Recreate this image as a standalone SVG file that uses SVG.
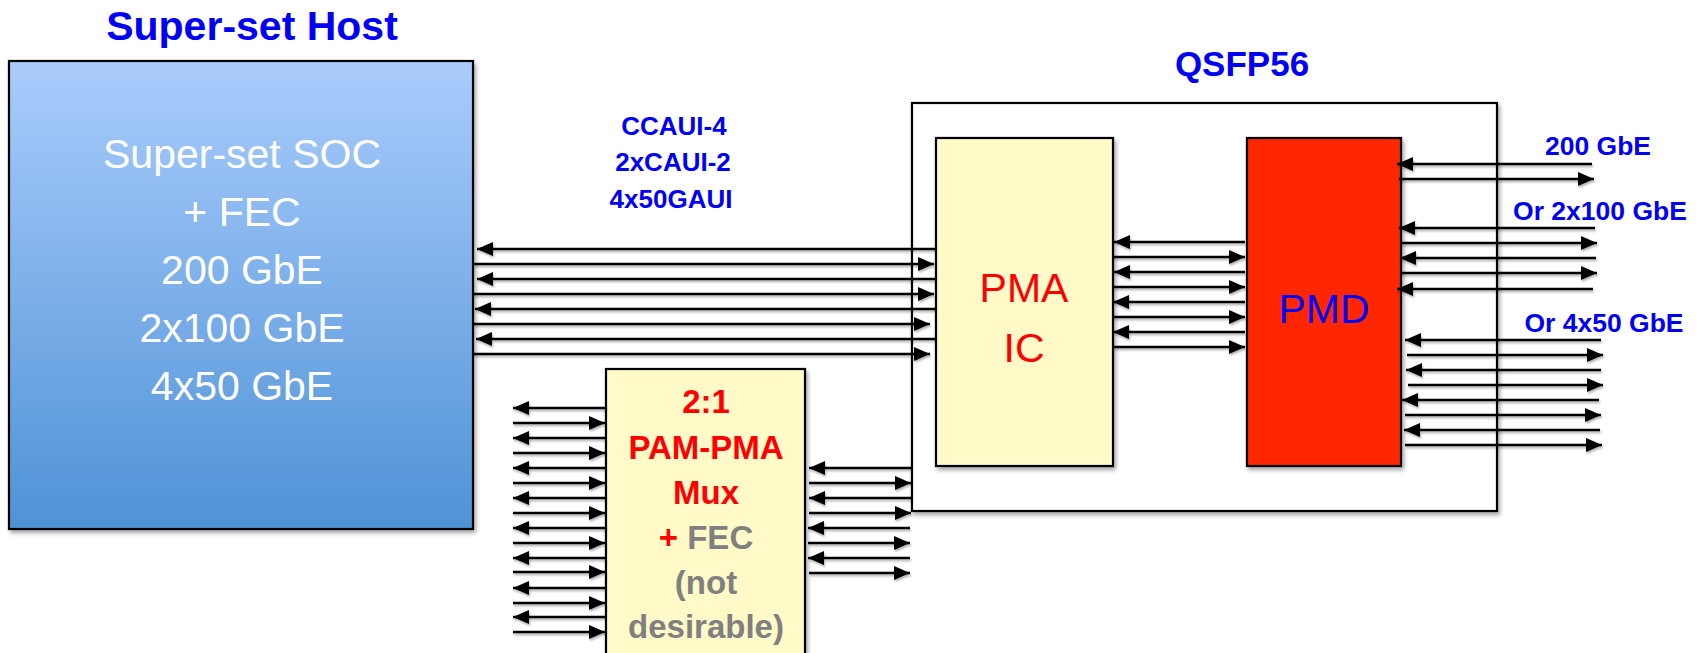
<svg xmlns="http://www.w3.org/2000/svg" width="1706" height="653" viewBox="0 0 1706 653">
<style>
.box{stroke:#000;stroke-width:2.2}
.ln{stroke:#000;stroke-width:2.6;fill:none}
.r{marker-end:url(#ah)}
.t{font-family:"Liberation Sans",Arial,sans-serif;text-anchor:middle}
.b{font-weight:bold}
.blue{fill:#0000F5}
.red{fill:#FF0000}
.gray{fill:#808080}
</style>
<defs>
<linearGradient id="hg" x1="0" y1="0" x2="0" y2="1">
<stop offset="0" stop-color="#AACCFC"/>
<stop offset="1" stop-color="#4E92D6"/>
</linearGradient>
<filter id="sh" x="-10%" y="-10%" width="130%" height="130%">
<feDropShadow dx="2" dy="3" stdDeviation="2" flood-color="#000" flood-opacity="0.35"/>
</filter>
<filter id="lsh" x="-5%" y="-50%" width="110%" height="200%">
<feDropShadow dx="1" dy="2" stdDeviation="1.2" flood-color="#000" flood-opacity="0.3"/>
</filter>
<marker id="ah" markerUnits="userSpaceOnUse" markerWidth="17" markerHeight="15" refX="16" refY="7" orient="auto" viewBox="0 0 17 15">
<path d="M0,0 L16,7 L0,14 z" fill="#000"/>
</marker>
</defs>
<rect width="1706" height="653" fill="#fff"/>

<g id="qsfp56">
<rect class="box" x="912" y="103" width="585" height="408" fill="#fff" filter="url(#sh)"/>
<text class="t b blue" x="1242" y="76" font-size="35">QSFP56</text>
</g>

<g id="host">
<text class="t b blue" x="252" y="40" font-size="41">Super-set Host</text>
<rect class="box" x="9" y="61" width="464" height="468" fill="url(#hg)" filter="url(#sh)"/>
<g class="t" fill="#fff" font-size="41">
<text x="242" y="168">Super-set SOC</text>
<text x="242" y="226">+ FEC</text>
<text x="242" y="284">200 GbE</text>
<text x="242" y="342">2x100 GbE</text>
<text x="242" y="400">4x50 GbE</text>
</g>
</g>

<g id="host-labels">
<g class="t b blue" font-size="26">
<text x="674" y="135">CCAUI-4</text>
<text x="673" y="171">2xCAUI-2</text>
<text x="671" y="208">4x50GAUI</text>
</g>
</g>

<g id="pma">
<rect class="box" x="936" y="138" width="177" height="328" fill="#FFFAC8" filter="url(#sh)"/>
<text class="t red" x="1024" y="302" font-size="41">PMA</text>
<text class="t red" x="1024" y="362" font-size="41">IC</text>
</g>

<g id="pmd">
<rect class="box" x="1247" y="138" width="154" height="328" fill="#FF2600" filter="url(#sh)"/>
<text class="t blue" x="1324" y="323" font-size="41">PMD</text>
</g>

<g id="mux">
<rect class="box" x="606" y="369" width="199" height="300" fill="#FFFAC8" filter="url(#sh)"/>
<g class="t b" font-size="33">
<text class="red" x="706" y="413">2:1</text>
<text class="red" x="706" y="459">PAM-PMA</text>
<text class="red" x="706" y="504">Mux</text>
<text x="706" y="549"><tspan class="red">+</tspan><tspan class="gray"> FEC</tspan></text>
<text class="gray" x="706" y="594">(not</text>
<text class="gray" x="706" y="638">desirable)</text>
</g>
</g>

<g id="line-labels">
<g class="t b blue" font-size="26.5">
<text x="1598" y="155">200 GbE</text>
<text x="1600" y="220">Or 2x100 GbE</text>
<text x="1604" y="332">Or 4x50 GbE</text>
</g>
</g>

<g id="connectors" filter="url(#lsh)">
<!-- host to PMA -->
<path class="ln r" d="M935,249 H477"/>
<path class="ln r" d="M473,264 H934"/>
<path class="ln r" d="M935,279 H477"/>
<path class="ln r" d="M473,294 H934"/>
<path class="ln r" d="M935,309 H475"/>
<path class="ln r" d="M473,324 H930"/>
<path class="ln r" d="M935,339 H476"/>
<path class="ln r" d="M473,354 H930"/>
<!-- PMA to PMD -->
<path class="ln r" d="M1245,242 H1114"/>
<path class="ln r" d="M1113,257 H1245"/>
<path class="ln r" d="M1245,272 H1114"/>
<path class="ln r" d="M1113,287 H1245"/>
<path class="ln r" d="M1245,302 H1113"/>
<path class="ln r" d="M1113,317 H1245"/>
<path class="ln r" d="M1245,332 H1113"/>
<path class="ln r" d="M1113,347 H1245"/>
<!-- PMD 200 GbE -->
<path class="ln r" d="M1592,164 H1397"/>
<path class="ln r" d="M1399,179 H1594"/>
<!-- PMD 2x100 GbE -->
<path class="ln r" d="M1595,228 H1399"/>
<path class="ln r" d="M1401,243 H1597"/>
<path class="ln r" d="M1596,258 H1400"/>
<path class="ln r" d="M1401,273 H1597"/>
<path class="ln r" d="M1593,289 H1397"/>
<!-- PMD 4x50 GbE -->
<path class="ln r" d="M1601,340 H1405"/>
<path class="ln r" d="M1407,355 H1603"/>
<path class="ln r" d="M1601,370 H1406"/>
<path class="ln r" d="M1408,385 H1603"/>
<path class="ln r" d="M1599,400 H1402"/>
<path class="ln r" d="M1405,415 H1601"/>
<path class="ln r" d="M1600,430 H1404"/>
<path class="ln r" d="M1405,445 H1602"/>
<!-- Mux left side -->
<path class="ln r" d="M605,408 H513"/>
<path class="ln r" d="M513,423 H605"/>
<path class="ln r" d="M605,438 H513"/>
<path class="ln r" d="M513,453 H605"/>
<path class="ln r" d="M605,468 H513"/>
<path class="ln r" d="M513,483 H605"/>
<path class="ln r" d="M605,498 H513"/>
<path class="ln r" d="M513,513 H605"/>
<path class="ln r" d="M605,528 H513"/>
<path class="ln r" d="M513,543 H605"/>
<path class="ln r" d="M605,558 H513"/>
<path class="ln r" d="M513,572 H605"/>
<path class="ln r" d="M605,588 H513"/>
<path class="ln r" d="M513,603 H605"/>
<path class="ln r" d="M605,617 H513"/>
<path class="ln r" d="M513,632 H605"/>
<!-- Mux right side -->
<path class="ln r" d="M911,468 H809"/>
<path class="ln r" d="M809,483 H911"/>
<path class="ln r" d="M911,498 H809"/>
<path class="ln r" d="M809,513 H911"/>
<path class="ln r" d="M910,528 H808"/>
<path class="ln r" d="M808,543 H910"/>
<path class="ln r" d="M910,558 H808"/>
<path class="ln r" d="M809,573 H910"/>
</g>
</svg>
